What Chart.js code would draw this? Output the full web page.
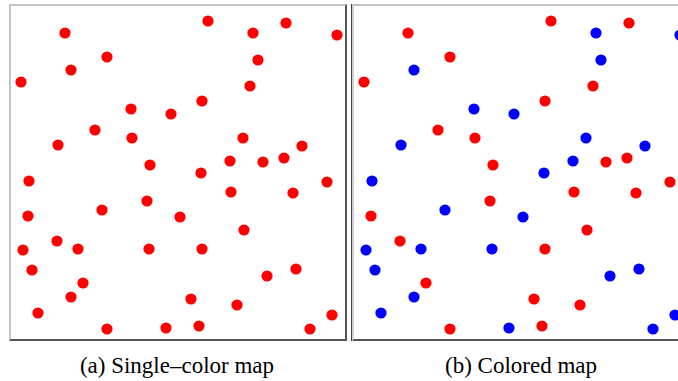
<!DOCTYPE html>
<html>
<head>
<meta charset="utf-8">
<script src="https://cdn.jsdelivr.net/npm/chart.js@4/dist/chart.umd.min.js"></script>
<style>
  html, body { margin:0; padding:0; background:#fff; width:678px; height:381px; overflow:hidden; }
  .panel { position:absolute; top:4px; background:#fff; box-sizing:content-box; }
  #pa { left:9px; width:334px; height:333px;
        border-top:2px solid #c4c4c4; border-left:2px solid #c4c4c4;
        border-right:2px solid #555; border-bottom:2px solid #555; }
  #pb { left:352px; width:340px; height:333px;
        border-top:2px solid #c4c4c4; border-left:2px solid #d0d0d0;
        border-bottom:2px solid #555; box-shadow:-1px 0 0 #444; }
  .panel canvas { position:absolute; left:0; top:0; }
  .cap { position:absolute; top:354px; font-family:"Liberation Serif", "Times New Roman", serif;
         font-size:23px; line-height:23px; color:#000; white-space:nowrap; transform:translateX(-50%); }
</style>
</head>
<body>
<div class="panel" id="pa"><canvas id="ca" width="334" height="333"></canvas></div>
<div class="panel" id="pb"><canvas id="cb" width="334" height="333"></canvas></div>
<div class="cap" style="left:177px">(a) Single–color map</div>
<div class="cap" style="left:521px">(b) Colored map</div>
<script>
// Map positions (map units, origin at top-left of the map, y downward)
const xs = [54, 96, 60, 10, 120, 160, 84, 121, 47, 139, 18, 197, 275, 242, 326, 247, 239, 191, 232, 291, 219, 252, 273, 190, 316, 91, 136, 17, 169, 46, 67, 12, 138, 21, 72, 60, 27, 96, 155, 220, 282, 233, 191, 256, 285, 180, 226, 188, 299, 321];
const ys = [27, 51, 64, 76, 103, 108, 124, 132, 139, 159, 175, 15, 17, 27, 29, 54, 80, 95, 132, 140, 155, 156, 152, 167, 176, 204, 195, 210, 211, 235, 243, 244, 243, 264, 277, 291, 307, 323, 322, 186, 187, 224, 243, 270, 263, 293, 299, 320, 323, 309];
// Colour group of each point in the colored map: 'r' = red, 'b' = blue
const groups = ['r','r','b','r','b','b','r','r','b','r','b','r','r','b','b','b','r','r','b','b','b','r','r','b','r','b','r','r','b','r','b','b','b','b','r','b','b','r','b','r','r','r','r','b','b','r','r','r','b','b'];

const pts = xs.map((x, i) => ({x: x, y: ys[i]}));
const redPts = pts.filter((p, i) => groups[i] === 'r');
const bluePts = pts.filter((p, i) => groups[i] === 'b');

function ds(data, color) {
  return { data: data, backgroundColor: color, borderColor: color, borderWidth: 0,
           pointRadius: 5.6, pointHoverRadius: 5.6, clip: false };
}
function opts() {
  return {
    responsive: false, animation: false, events: [],
    layout: { padding: 0, autoPadding: false },
    plugins: { legend: { display: false }, tooltip: { enabled: false }, title: { display: false } },
    scales: {
      x: { type: 'linear', min: 0, max: 334, display: false },
      y: { type: 'linear', min: 0, max: 333, reverse: true, display: false }
    }
  };
}
new Chart(document.getElementById('ca'), {
  type: 'scatter',
  data: { datasets: [ds(pts, '#ff0000')] },
  options: opts()
});
new Chart(document.getElementById('cb'), {
  type: 'scatter',
  data: { datasets: [ds(redPts, '#ff0000'), ds(bluePts, '#0000ff')] },
  options: opts()
});
</script>
</body>
</html>
